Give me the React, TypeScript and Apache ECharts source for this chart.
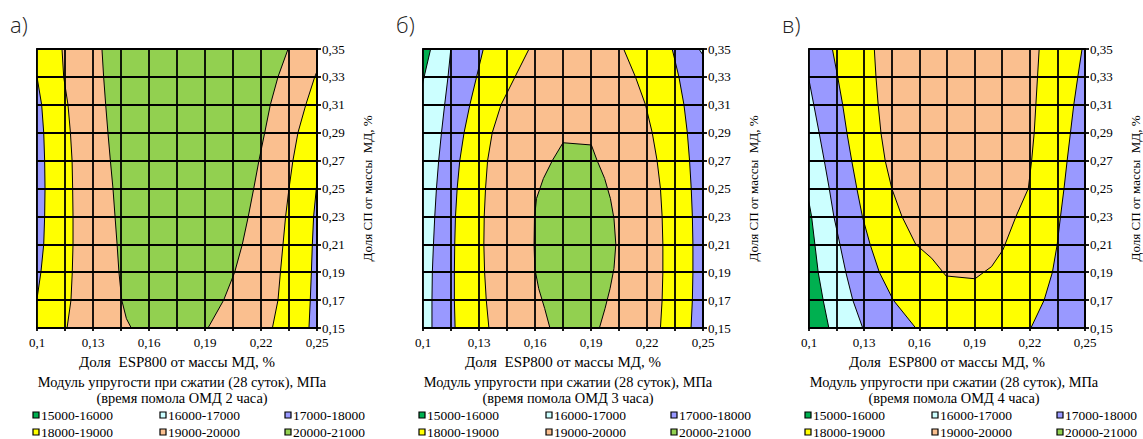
import React, { useEffect, useRef } from "react";
import * as echarts from "echarts";

type Pt = [number, number];

// ---- axes ----
const X_MIN = 0.1, X_MAX = 0.25, X_STEP = 0.015;
const Y_MIN = 0.15, Y_MAX = 0.35, Y_STEP = 0.02;

// ---- legend levels ----
const LEVELS = ["15000-16000", "16000-17000", "17000-18000", "18000-19000", "19000-20000", "20000-21000"];
const LEVEL_COLORS = ["#00B050", "#CCFFFF", "#9999FF", "#FFFF00", "#FABF8F", "#92D050"];

const PANEL_LABELS = ["а)", "б)", "в)"];
const GRIND_HOURS = [2, 3, 4];
const X_NAME = "Доля  ESP800 от массы МД, %";
const Y_NAME = "Доля СП от массы  МД, %";
const SUBTITLE = "Модуль упругости при сжатии (28 суток), МПа";

// ---- contour boundaries, panel а (2 h) : [x, y], top -> bottom ----
const A_BLUE_YELLOW_L: Pt[] = [[0.097, 0.35], [0.1, 0.33], [0.1025, 0.31], [0.1036, 0.29], [0.1041, 0.27], [0.1043, 0.25], [0.1041, 0.23], [0.1036, 0.21], [0.1021, 0.19], [0.1, 0.171], [0.097, 0.15]];
const A_YELLOW_PEACH_L: Pt[] = [[0.1134, 0.35], [0.1143, 0.33], [0.1166, 0.31], [0.1179, 0.29], [0.1188, 0.27], [0.1191, 0.25], [0.1193, 0.23], [0.1193, 0.21], [0.1189, 0.19], [0.1182, 0.17], [0.1161, 0.15]];
const A_PEACH_GREEN_L: Pt[] = [[0.1348, 0.35], [0.1357, 0.33], [0.1368, 0.31], [0.138, 0.29], [0.1393, 0.27], [0.1407, 0.25], [0.1418, 0.23], [0.1429, 0.21], [0.1439, 0.19], [0.1454, 0.17], [0.1479, 0.1567], [0.1505, 0.15]];
const A_GREEN_PEACH_R: Pt[] = [[0.2345, 0.35], [0.2291, 0.33], [0.225, 0.31], [0.222, 0.29], [0.2189, 0.27], [0.2161, 0.25], [0.2132, 0.23], [0.21, 0.21], [0.2059, 0.19], [0.2, 0.17], [0.1916, 0.15]];
const A_PEACH_YELLOW_R: Pt[] = [[0.2515, 0.35], [0.25, 0.334], [0.2488, 0.33], [0.244, 0.31], [0.2398, 0.29], [0.2371, 0.27], [0.235, 0.25], [0.2332, 0.23], [0.2318, 0.21], [0.2304, 0.19], [0.2291, 0.17], [0.2261, 0.15]];
const A_YELLOW_BLUE_R: Pt[] = [[0.256, 0.35], [0.252, 0.27], [0.25, 0.255], [0.2482, 0.23], [0.2475, 0.21], [0.247, 0.19], [0.2464, 0.17], [0.2457, 0.15]];

// ---- panel б (3 h) ----
const B_DKGREEN_R: Pt[] = [[0.1041, 0.35], [0.1, 0.3266], [0.099, 0.32]];
const B_CYAN_BLUE_L: Pt[] = [[0.1149, 0.35], [0.1134, 0.33], [0.1116, 0.31], [0.1099, 0.29], [0.1084, 0.27], [0.1072, 0.25], [0.1063, 0.23], [0.1056, 0.21], [0.105, 0.19], [0.1048, 0.17], [0.1048, 0.15]];
const B_BLUE_YELLOW_L: Pt[] = [[0.1323, 0.35], [0.1287, 0.33], [0.1251, 0.31], [0.122, 0.29], [0.1197, 0.27], [0.1183, 0.25], [0.1174, 0.23], [0.117, 0.21], [0.1168, 0.19], [0.1168, 0.17], [0.1172, 0.15]];
const B_YELLOW_PEACH_L: Pt[] = [[0.1568, 0.35], [0.1493, 0.33], [0.1418, 0.31], [0.1371, 0.29], [0.1346, 0.27], [0.1335, 0.25], [0.1328, 0.23], [0.1326, 0.21], [0.133, 0.19], [0.1339, 0.17], [0.1353, 0.15]];
const B_GREEN_L: Pt[] = [[0.175, 0.2828], [0.1694, 0.2703], [0.1645, 0.2572], [0.1608, 0.2428], [0.1597, 0.2285], [0.1595, 0.21], [0.1599, 0.1926], [0.162, 0.1782], [0.1652, 0.1639], [0.168, 0.15]];
const B_GREEN_R: Pt[] = [[0.1902, 0.2812], [0.1932, 0.2703], [0.1973, 0.2572], [0.2004, 0.2428], [0.2023, 0.2285], [0.2033, 0.21], [0.2023, 0.1926], [0.2002, 0.1782], [0.1975, 0.1639], [0.1945, 0.15]];
const B_PEACH_YELLOW_R: Pt[] = [[0.2075, 0.35], [0.2138, 0.33], [0.2192, 0.31], [0.2228, 0.29], [0.2254, 0.27], [0.2272, 0.25], [0.2281, 0.23], [0.2285, 0.21], [0.2285, 0.19], [0.2281, 0.17], [0.2272, 0.15]];
const B_YELLOW_BLUE_R: Pt[] = [[0.2335, 0.35], [0.2371, 0.33], [0.2398, 0.31], [0.2416, 0.29], [0.2428, 0.27], [0.2437, 0.25], [0.2443, 0.23], [0.2446, 0.21], [0.2446, 0.19], [0.2443, 0.17], [0.2436, 0.15]];
const B_BLUE_CYAN_R: Pt[] = [[0.2478, 0.35], [0.25, 0.3457], [0.252, 0.33], [0.256, 0.15]];

// ---- panel в (4 h) ----
const C_GREEN_R: Pt[] = [[0.099, 0.245], [0.1, 0.24], [0.1014, 0.23], [0.1032, 0.21], [0.105, 0.19], [0.1077, 0.17], [0.1108, 0.15]];
const C_CYAN_BLUE_R: Pt[] = [[0.098, 0.336], [0.1, 0.3278], [0.1026, 0.31], [0.1055, 0.29], [0.1083, 0.27], [0.111, 0.25], [0.1135, 0.23], [0.1168, 0.21], [0.12, 0.19], [0.1238, 0.17], [0.1292, 0.15]];
const C_BLUE_YELLOW_L: Pt[] = [[0.1127, 0.35], [0.1156, 0.33], [0.1183, 0.31], [0.1206, 0.29], [0.1232, 0.27], [0.126, 0.25], [0.129, 0.23], [0.1332, 0.21], [0.1382, 0.19], [0.1458, 0.17], [0.158, 0.15]];
const C_PEACH_L: Pt[] = [[0.1355, 0.35], [0.1364, 0.33], [0.1376, 0.31], [0.1391, 0.29], [0.1414, 0.27], [0.145, 0.25], [0.1505, 0.23], [0.158, 0.21], [0.1667, 0.2], [0.1745, 0.1873]];
const C_PEACH_R: Pt[] = [[0.2251, 0.35], [0.2242, 0.33], [0.2233, 0.31], [0.2224, 0.29], [0.221, 0.27], [0.2192, 0.25], [0.2125, 0.23], [0.2054, 0.206], [0.1992, 0.194], [0.1902, 0.1853]];
const C_YELLOW_BLUE_R: Pt[] = [[0.2484, 0.35], [0.2461, 0.33], [0.2439, 0.31], [0.2421, 0.29], [0.2403, 0.27], [0.2386, 0.25], [0.2367, 0.23], [0.2349, 0.21], [0.2323, 0.19], [0.2278, 0.17], [0.2206, 0.15]];

// layers painted in order; null = plot edge
type Layer = { level: number; left: Pt[] | null; right: Pt[] | null };
const PANEL_A_LAYERS: Layer[] = [
  { level: 2, left: null, right: null },
  { level: 3, left: A_BLUE_YELLOW_L, right: A_YELLOW_BLUE_R },
  { level: 4, left: A_YELLOW_PEACH_L, right: A_PEACH_YELLOW_R },
  { level: 5, left: A_PEACH_GREEN_L, right: A_GREEN_PEACH_R },
];
const PANEL_B_LAYERS: Layer[] = [
  { level: 1, left: null, right: null },
  { level: 2, left: B_CYAN_BLUE_L, right: B_BLUE_CYAN_R },
  { level: 3, left: B_BLUE_YELLOW_L, right: B_YELLOW_BLUE_R },
  { level: 4, left: B_YELLOW_PEACH_L, right: B_PEACH_YELLOW_R },
  { level: 5, left: B_GREEN_L, right: B_GREEN_R },
  { level: 0, left: null, right: B_DKGREEN_R },
];
const PANEL_C_LAYERS: Layer[] = [
  { level: 2, left: null, right: null },
  { level: 3, left: C_BLUE_YELLOW_L, right: C_YELLOW_BLUE_R },
  { level: 4, left: C_PEACH_L, right: C_PEACH_R },
  { level: 1, left: null, right: C_CYAN_BLUE_R },
  { level: 0, left: null, right: C_GREEN_R },
];
const PANELS = [PANEL_A_LAYERS, PANEL_B_LAYERS, PANEL_C_LAYERS];

// ---- layout ----
const PLOT_LEFTS = [37, 423, 809];
const PLOT_TOP = 49;
const PLOT_W = 280;
const PLOT_H = 279;
const SERIF = "Liberation Serif";

const PAD = 0.01;
function layerPolygon(layer: Layer): Pt[] {
  const left: Pt[] = layer.left ?? [[X_MIN - PAD, Y_MAX + PAD], [X_MIN - PAD, Y_MIN - PAD]];
  const right: Pt[] = layer.right ?? [[X_MAX + PAD, Y_MAX + PAD], [X_MAX + PAD, Y_MIN - PAD]];
  return [...left, ...right.slice().reverse()];
}

function fmt(v: number): string {
  return String(+v.toFixed(3)).replace(".", ",");
}

export default function App() {
  const ref = useRef<HTMLDivElement>(null);
  useEffect(() => {
    document.body.style.margin = "0";
    const chart = echarts.init(ref.current!, null, { renderer: "svg" });
    const grid: any[] = [];
    const xAxis: any[] = [];
    const yAxis: any[] = [];
    const series: any[] = [];
    const graphic: any[] = [];
    const LINE_W = 1.8;

    PANELS.forEach((layers, p) => {
      const left = PLOT_LEFTS[p];
      grid.push({ left, top: PLOT_TOP, width: PLOT_W, height: PLOT_H, show: true, borderColor: "#000", borderWidth: LINE_W, backgroundColor: "transparent" });
      xAxis.push({
        type: "value", gridIndex: p, min: X_MIN, max: X_MAX, interval: X_STEP, z: 5,
        name: X_NAME, nameLocation: "middle", nameGap: 26,
        nameTextStyle: { fontFamily: SERIF, fontSize: 15, color: "#000" },
        axisLine: { show: true, lineStyle: { color: "#000", width: LINE_W } },
        axisTick: { show: true, length: 3, lineStyle: { color: "#000", width: LINE_W } },
        splitLine: { show: true, lineStyle: { color: "#000", width: LINE_W } },
        axisLabel: {
          fontFamily: SERIF, fontSize: 13, color: "#000", margin: 8,
          formatter: (v: number) => (Math.round((v - X_MIN) / X_STEP) % 2 === 0 ? fmt(v) : ""),
        },
      });
      yAxis.push({
        type: "value", gridIndex: p, position: "right", min: Y_MIN, max: Y_MAX, interval: Y_STEP, z: 5,
        name: Y_NAME, nameLocation: "middle", nameGap: 44,
        nameTextStyle: { fontFamily: SERIF, fontSize: 13, color: "#000" },
        axisLine: { show: true, lineStyle: { color: "#000", width: LINE_W } },
        axisTick: { show: true, length: 4, lineStyle: { color: "#000", width: LINE_W } },
        splitLine: { show: true, lineStyle: { color: "#000", width: LINE_W } },
        axisLabel: { fontFamily: SERIF, fontSize: 13, color: "#000", margin: 5, formatter: (v: number) => fmt(v) },
      });
      layers.forEach((layer) => {
        const poly = layerPolygon(layer);
        series.push({
          type: "custom", xAxisIndex: p, yAxisIndex: p, z: 1, silent: true, clip: true,
          data: [[X_MIN, Y_MIN]],
          renderItem: (_params: any, api: any) => ({
            type: "polygon",
            shape: { points: poly.map((pt) => api.coord(pt)) },
            style: { fill: LEVEL_COLORS[layer.level], stroke: "#000", lineWidth: 1 },
          }),
        });
      });

      // panel letter
      graphic.push({
        type: "text", left: left - 27, top: 13,
        style: { text: PANEL_LABELS[p], fontFamily: "Open Sans", fontWeight: 300, fontSize: 22, fill: "#222" },
      });
      // captions
      graphic.push({
        type: "text", x: left + 145, y: 382,
        style: { text: SUBTITLE, fontFamily: SERIF, fontSize: 14.4, fill: "#000", align: "center", verticalAlign: "middle" },
      });
      graphic.push({
        type: "text", x: left + 145, y: 398,
        style: { text: `(время помола ОМД ${GRIND_HOURS[p]} часа)`, fontFamily: SERIF, fontSize: 14.4, fill: "#000", align: "center", verticalAlign: "middle" },
      });
      // legend
      const colX = [-4, 123, 248];
      const rowY = [415, 432];
      LEVELS.forEach((lab, i) => {
        const cx = left + colX[i % 3];
        const cy = rowY[Math.floor(i / 3)];
        graphic.push({
          type: "rect", shape: { x: cx, y: cy - 3, width: 6, height: 6 },
          style: { fill: LEVEL_COLORS[i], stroke: "#000", lineWidth: 1.2 },
        });
        graphic.push({
          type: "text", x: cx + 8, y: cy,
          style: { text: lab, fontFamily: SERIF, fontSize: 13.5, fill: "#000", verticalAlign: "middle" },
        });
      });
    });

    chart.setOption({ animation: false, backgroundColor: "#fff", grid, xAxis, yAxis, series, graphic });
    return () => chart.dispose();
  }, []);
  return <div ref={ref} style={{ width: 1143, height: 439 }} />;
}
